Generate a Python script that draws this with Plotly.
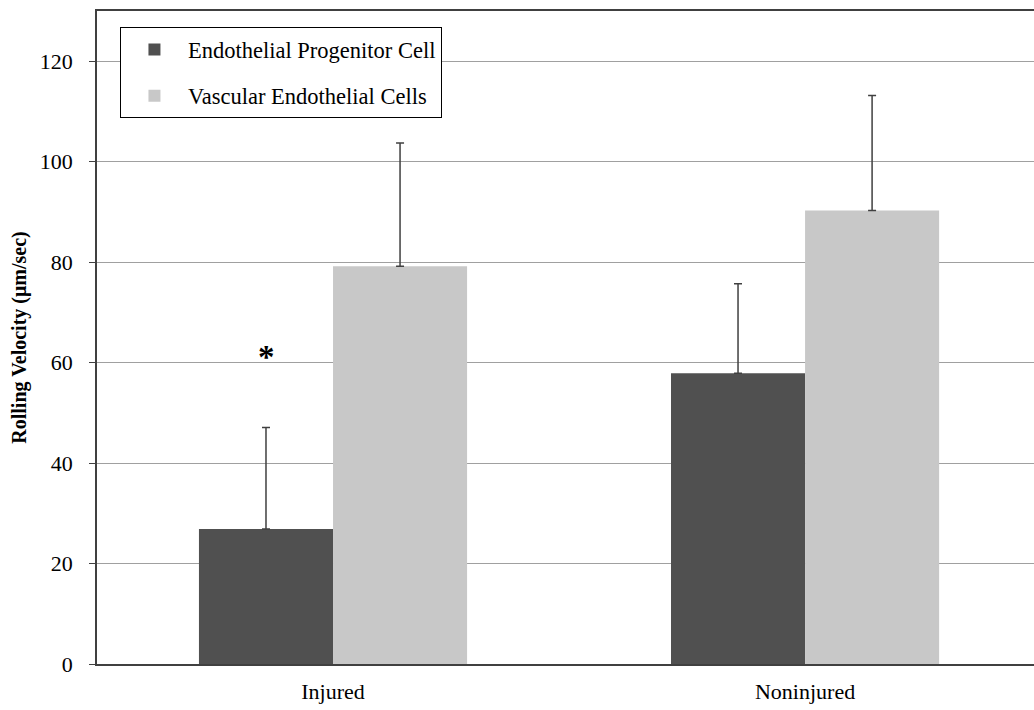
import plotly.graph_objects as go

categories = ["Injured", "Noninjured"]
epc_values = [26.9, 57.9]
epc_errors = [20.2, 17.8]
vec_values = [79.2, 90.3]
vec_errors = [24.5, 22.9]
y_ticks = [0, 20, 40, 60, 80, 100, 120]
boundary_ticks = [-0.5, 0.5]

FONT = "Liberation Serif"

fig = go.Figure()
fig.add_trace(go.Bar(
    name="Endothelial Progenitor Cell", x=categories, y=epc_values,
    marker=dict(color="#505050", line=dict(width=0)),
    error_y=dict(type="data", array=epc_errors, arrayminus=[0, 0], symmetric=False,
                 color="#404040", thickness=1.5, width=4),
    legendgroup="a",
))
fig.add_trace(go.Bar(
    name="Vascular Endothelial Cells", x=categories, y=vec_values,
    marker=dict(color="#c8c8c8", line=dict(width=0)),
    error_y=dict(type="data", array=vec_errors, arrayminus=[0, 0], symmetric=False,
                 color="#404040", thickness=1.5, width=4),
    legendgroup="b",
))

fig.add_annotation(x=categories[0], y=61.2, xref="x", yref="y", xshift=-67,
                   text="<b>*</b>", showarrow=False, yanchor="middle",
                   font=dict(family=FONT, size=33, color="black"))

fig.update_layout(
    width=1034, height=710,
    margin=dict(l=97, r=0, t=11, b=46),
    paper_bgcolor="white", plot_bgcolor="white",
    barmode="group", bargap=0.432, bargroupgap=0,
    font=dict(family=FONT, color="black", size=20),
    showlegend=True,
    legend=dict(
        x=0.0245, y=0.975, xanchor="left", yanchor="top",
        bgcolor="white", bordercolor="black", borderwidth=1,
        font=dict(family=FONT, size=22.5, color="black"),
        traceorder="grouped", tracegroupgap=14,
        itemwidth=57,
    ),
    xaxis=dict(
        type="category", range=[-0.5, 1.485],
        showline=True, linecolor="#404040", linewidth=1.5, mirror=True,
        ticks="", ticklabelstandoff=7,
        tickfont=dict(family=FONT, size=22, color="black"),
        showgrid=False,
    ),
    xaxis2=dict(
        overlaying="x", anchor="y", range=[-0.5, 1.485],
        tickvals=boundary_ticks, showticklabels=False,
        ticks="outside", ticklen=6, tickcolor="#404040", tickwidth=1.5,
        showgrid=False, zeroline=False, showline=False,
    ),
    yaxis=dict(
        range=[0, 130], tickvals=y_ticks,
        showline=True, linecolor="#404040", linewidth=1.5,
        ticks="outside", ticklen=6, tickcolor="#404040",
        ticklabelstandoff=12,
        tickfont=dict(family=FONT, size=22, color="black"),
        showgrid=True, gridcolor="#a0a0a0", gridwidth=1,
        zeroline=False,
        title=dict(text="<b>Rolling Velocity (μm/sec)</b>",
                   font=dict(family=FONT, size=20, color="black"), standoff=8),
    ),
)

fig.write_html("out.html")
